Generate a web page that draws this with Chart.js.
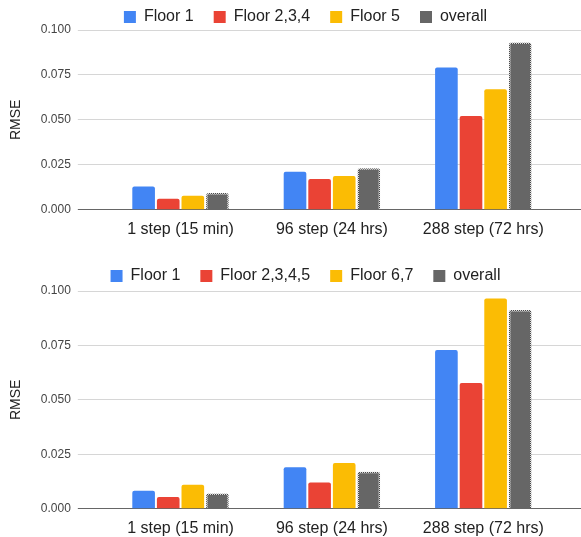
<!DOCTYPE html>
<html>
<head>
<meta charset="utf-8">
<script src="https://cdn.jsdelivr.net/npm/chart.js@4.4.0/dist/chart.umd.min.js"></script>
<style>
  body { margin: 0; background: #fff; overflow: hidden; }
  .box { position: absolute; left: 0; width: 581px; }
  #box1 { top: 0; height: 238px; }
  #box2 { top: 259px; height: 278px; }
</style>
</head>
<body>
<div class="box" id="box1"><canvas id="chart1"></canvas></div>
<div class="box" id="box2"><canvas id="chart2"></canvas></div>
<script>
// categories and axis ticks shared by both charts
const categories = ['1 step (15 min)', '96 step (24 hrs)', '288 step (72 hrs)'];
const yTicks = [0, 0.025, 0.05, 0.075, 0.1];

// top chart
const names1 = ['Floor 1', 'Floor 2,3,4', 'Floor 5', 'overall'];
const floor1A = [0.0130, 0.0211, 0.0792];
const floor234 = [0.0061, 0.0171, 0.0521];
const floor5 = [0.0078, 0.0188, 0.0670];
const overallA = [0.0093, 0.0231, 0.0931];

// bottom chart
const names2 = ['Floor 1', 'Floor 2,3,4,5', 'Floor 6,7', 'overall'];
const floor1B = [0.0083, 0.0191, 0.0729];
const floor2345 = [0.0054, 0.0121, 0.0578];
const floor67 = [0.0110, 0.0210, 0.0966];
const overallB = [0.0070, 0.0170, 0.0913];

const colors = ['#4285F4', '#EA4335', '#FBBC04', '#666666'];

Chart.defaults.font.family = "'Liberation Sans', Arial, sans-serif";

// dotted border for the "overall" bars
function dotPattern() {
  const c = document.createElement('canvas');
  c.width = 2; c.height = 2;
  const g = c.getContext('2d');
  g.fillStyle = '#dcdcdc';
  g.fillRect(0, 0, 2, 2);
  g.fillStyle = '#4a4a4a';
  g.fillRect(0, 0, 1, 1);
  g.fillRect(1, 1, 1, 1);
  return g.createPattern(c, 'repeat');
}

const gridColor = ctx => ctx.tick && ctx.tick.value === 0 ? '#666666' : '#d6d6d6';
const setTicks = axis => { axis.ticks = yTicks.map(v => ({ value: v })); };

function makeChart(id, names, series, legendHeight) {
  new Chart(document.getElementById(id), {
    type: 'bar',
    data: {
      labels: categories,
      datasets: names.map((name, i) => ({
        label: name,
        data: series[i],
        backgroundColor: colors[i],
        borderColor: i === 3 ? dotPattern() : colors[i],
        borderWidth: i === 3 ? { top: 1.5, left: 1.5, right: 1.5, bottom: 0 } : 0,
        borderRadius: 2,
        borderSkipped: 'bottom',
        categoryPercentage: 0.65,
        barPercentage: 0.92
      }))
    },
    options: {
      responsive: true,
      maintainAspectRatio: false,
      animation: false,
      layout: { padding: { top: -11, right: -30, left: 0, bottom: -11 } },
      plugins: {
        legend: {
          maxHeight: legendHeight,
          labels: {
            boxWidth: 12,
            boxHeight: 12,
            padding: 20,
            color: '#222',
            font: { size: 16 },
            generateLabels: chart =>
              Chart.defaults.plugins.legend.labels.generateLabels(chart)
                .map(l => Object.assign(l, { lineWidth: 0, strokeStyle: l.fillStyle }))
          }
        },
        tooltip: { enabled: false }
      },
      scales: {
        x: {
          grid: { display: false, drawTicks: false },
          border: { display: false },
          ticks: { padding: 10, color: '#222', font: { size: 16 } }
        },
        y: {
          min: 0,
          max: 0.1,
          afterBuildTicks: setTicks,
          border: { display: false },
          grid: { color: gridColor, tickLength: 27 },
          ticks: { padding: 7, color: '#444', font: { size: 12 }, callback: v => v.toFixed(3) },
          title: {
            display: true,
            text: 'RMSE',
            color: '#222',
            font: { size: 14 },
            padding: { top: 8, bottom: 9 }
          }
        },
        y2: {
          position: 'right',
          min: 0,
          max: 0.1,
          afterBuildTicks: setTicks,
          border: { display: false },
          grid: { color: gridColor, drawOnChartArea: false, tickLength: 52 },
          ticks: { display: false }
        }
      }
    }
  });
}

makeChart('chart1', names1, [floor1A, floor234, floor5, overallA], 41);
makeChart('chart2', names2, [floor1B, floor2345, floor67, overallB], 43);
</script>
</body>
</html>
